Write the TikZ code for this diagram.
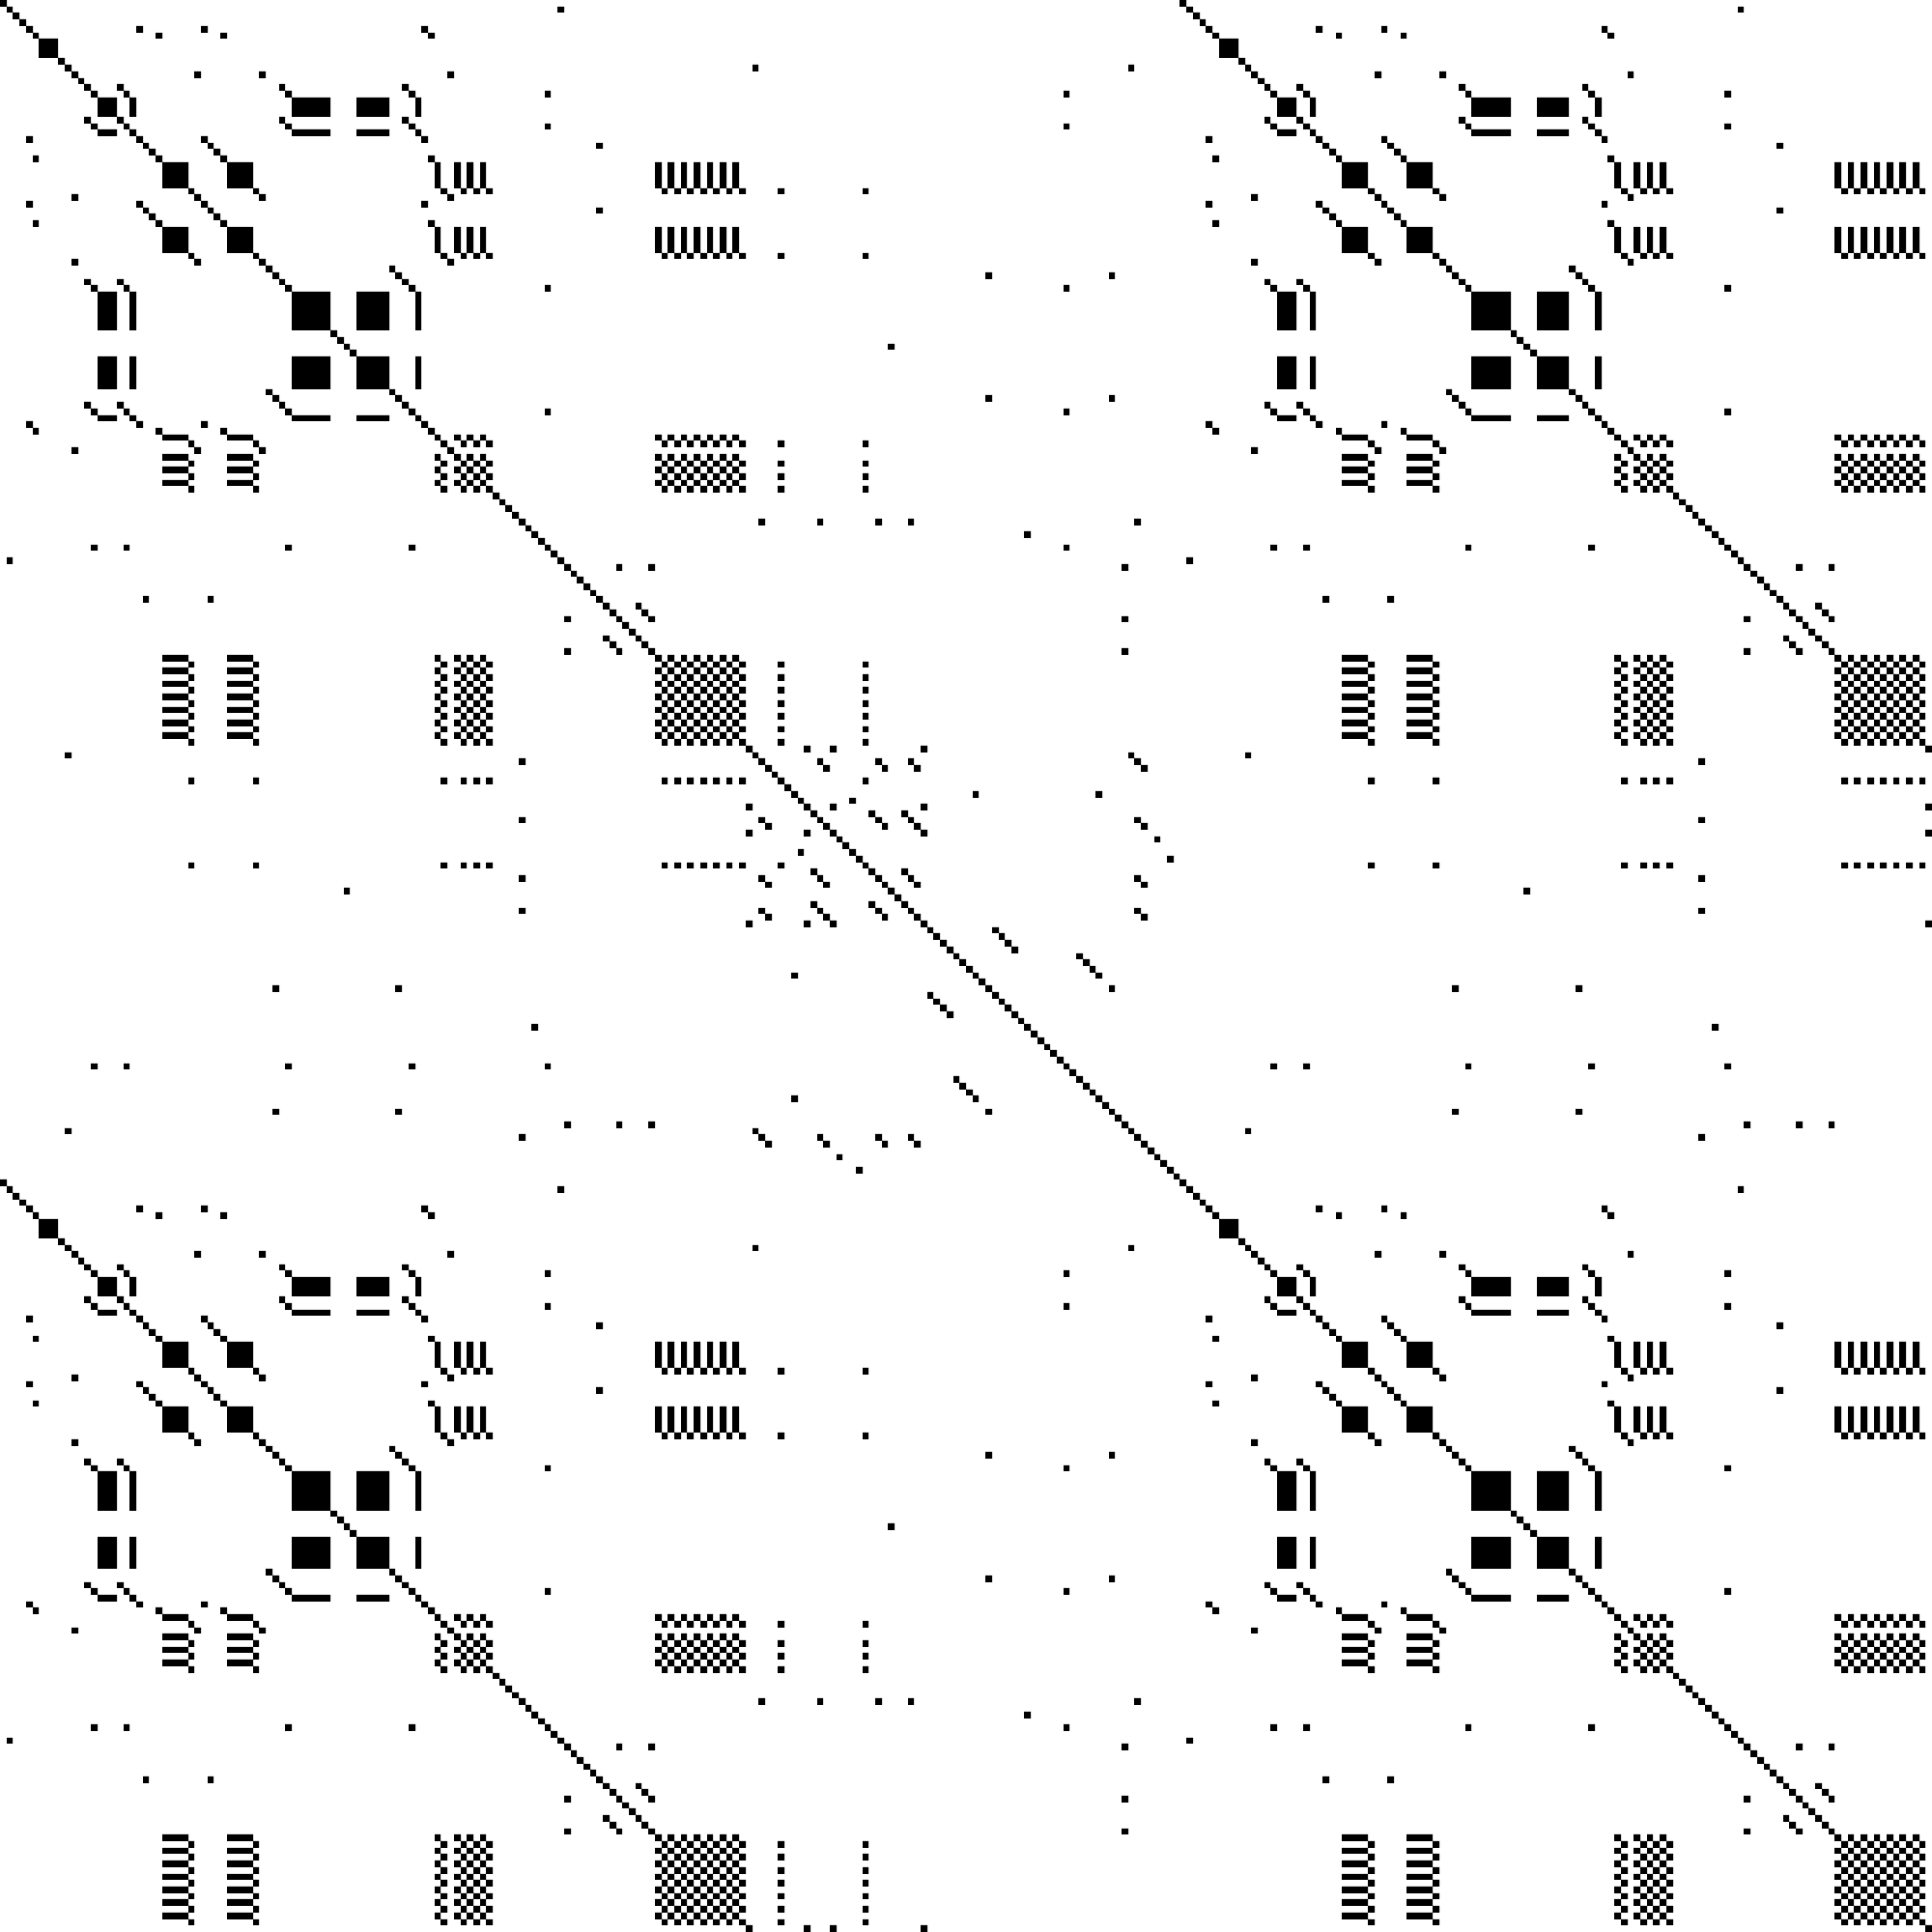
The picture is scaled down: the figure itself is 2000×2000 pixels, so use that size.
\documentclass[tikz,border=0pt]{standalone}
\newcount\rowi
\newcount\colj
\newcount\runst
\newcount\inrunc
% every position of the sequence starts as its own class
\rowi=0
\loop
  \expandafter\xdef\csname tk\the\rowi\endcsname{\the\rowi}
  \advance\rowi 1
\ifnum\rowi<182 \repeat
\newcommand\mkclass[2]{\foreach \vv in {#2}{\expandafter\xdef\csname tk\vv\endcsname{#1}}}
\mkclass{1}{1,86}
\mkclass{4}{4,21,31,65}
\mkclass{5}{5,24,34,66}
\mkclass{6}{6,7,8}
\mkclass{10}{10,116,174}
\mkclass{11}{11,30,40,69}
\mkclass{13}{13,18,43,62}
\mkclass{14}{14,19,44,63,84,164}
\mkclass{15}{15,16,17,20,45,46,47,48,49,50,55,56,57,58,59,64}
\mkclass{22}{22,32,92}
\mkclass{23}{23,33}
\mkclass{25}{25,26,27,28,35,36,37,38,67,70,72,74,101,103,105,107,109,111,113}
\mkclass{29}{29,39,68,71,73,75,102,104,106,108,110,112,114,120,133}
\mkclass{41}{41,60}
\mkclass{42}{42,61,152,171}
\mkclass{53}{53,137}
\mkclass{80}{80,117,126,135,140,175}
\mkclass{82}{82,158}
\mkclass{87}{87,95,100,173}
\mkclass{93}{93,98}
\mkclass{94}{94,99}
\mkclass{115}{115,124,128,142}
\mkclass{118}{118,127,136,141,176}
\mkclass{122}{122,150,169}
\mkclass{123}{123,131}
\mkclass{125}{125,134,139}
\mkclass{129}{129,178}
\mkclass{132}{132,180}
\mkclass{143}{143,153}
\mkclass{144}{144,154}
\mkclass{145}{145,155}
\mkclass{146}{146,156}
\mkclass{147}{147,166}
\mkclass{148}{148,167}
\mkclass{149}{149,168}
% the sequence repeats with period 182
\rowi=182
\loop
  \expandafter\xdef\csname tk\the\rowi\endcsname{\csname tk\the\numexpr\rowi-182\relax\endcsname}
  \advance\rowi 1
\ifnum\rowi<298 \repeat
\def\pxof#1{\numexpr(#1)*2000/298\relax}
\def\emitrun{%
  \pgfpathrectangle
    {\pgfqpoint{\dimexpr 0.25pt*\pxof{\runst}\relax}{\dimexpr 0.25pt*(2000-\pxof{\rowi+1})\relax}}%
    {\pgfqpoint{\dimexpr 0.25pt*(\pxof{\colj}-\pxof{\runst})\relax}{\dimexpr 0.25pt*(\pxof{\rowi+1}-\pxof{\rowi})\relax}}%
  \inrunc=0 }
\def\testcell{%
  \ifnum\csname tk\the\rowi\endcsname=\csname tk\the\colj\endcsname\relax
    \ifnum\inrunc=0 \runst=\colj \inrunc=1 \fi
  \else
    \ifnum\inrunc=1 \emitrun\fi
  \fi}
\def\colscan{%
  \ifnum\colj<298
    \testcell
    \advance\colj 1
    \expandafter\colscan
  \else
    \ifnum\inrunc=1 \emitrun\fi
  \fi}
\def\rowscan{%
  \ifnum\rowi<298
    \colj=0 \inrunc=0
    \colscan
    \advance\rowi 1
    \expandafter\rowscan
  \fi}
\begin{document}
\begin{tikzpicture}[x=0.25pt,y=0.25pt]
  \fill[white] (0,0) rectangle (2000,2000);
  \path[use as bounding box] (0,0) rectangle (2000,2000);
  \begin{pgfscope}
    \pgfsetfillcolor{black}
    \rowi=0
    \rowscan
    \pgfusepath{fill}
  \end{pgfscope}
\end{tikzpicture}
\end{document}
